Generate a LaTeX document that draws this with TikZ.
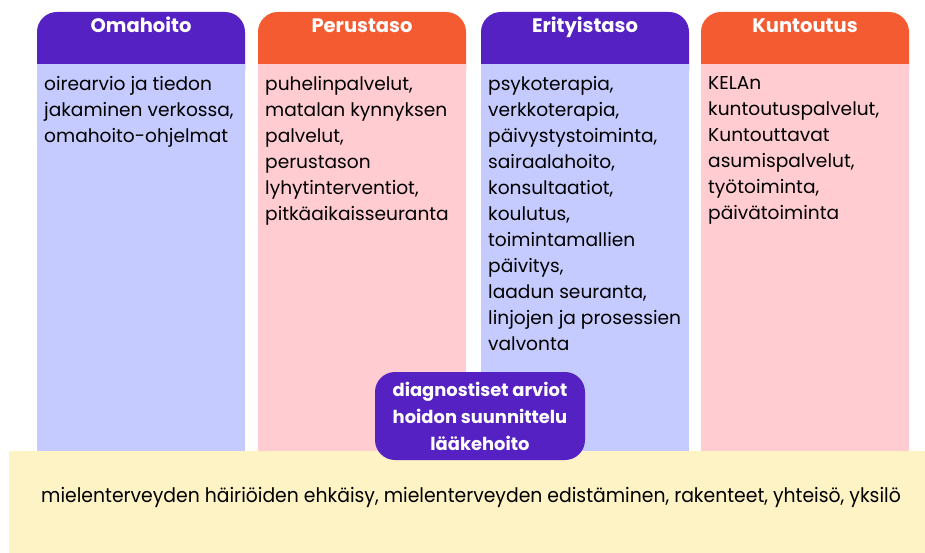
\documentclass[tikz,border=0pt]{standalone}
\usepackage{fontspec}
\setmainfont{Poppins}
\usepackage{xcolor}
\usetikzlibrary{positioning}
\definecolor{headviolet}{HTML}{5521C3}
\definecolor{headorange}{HTML}{F55B31}
\definecolor{bodyblue}{HTML}{C5CBFE}
\definecolor{bodypink}{HTML}{FFCCD2}
\definecolor{baseyellow}{HTML}{FEF3C4}
\tikzset{x=1pt, y=-1pt,
  headtext/.style={text=white, font=\fontsize{19.5}{22}\selectfont\bfseries, anchor=base},
  bodytext/.style={anchor=north west, align=left, inner sep=0pt, font=\fontsize{18.6}{26}\selectfont},
  levelbox/.style={rounded corners=20pt}}

\begin{document}
\begin{tikzpicture}
        \useasboundingbox (0,0) rectangle (925,553);
        % Draw the four columns: header with rounded top, then the body
        \fill[levelbox, headviolet] (37,12) rectangle (245,90);
        \fill[levelbox, headorange] (258,12) rectangle (466,90);
        \fill[levelbox, headviolet] (481,12) rectangle (689,90);
        \fill[levelbox, headorange] (701,12) rectangle (909,90);
        \fill[bodyblue] (37,64) rectangle (245,452);
        \fill[bodypink] (258,64) rectangle (466,452);
        \fill[bodyblue] (481,64) rectangle (689,452);
        \fill[bodypink] (701,64) rectangle (909,452);

        % Column titles
        \node[headtext] (oma) at (141,33) {Omahoito};
        \node[headtext] (perus) at (362,33) {Perustaso};
        \node[headtext] (erity) at (585,33) {Erityistaso};
        \node[headtext] (kunto) at (805,33) {Kuntoutus};

        % Column contents
        \node[bodytext] (omaList) at (44,76) {oirearvio ja tiedon\\jakaminen verkossa,\\omahoito-ohjelmat};
        \node[bodytext] (perusList) at (265,76) {puhelinpalvelut,\\matalan kynnyksen\\palvelut,\\perustason\\lyhytinterventiot,\\pitkäaikaisseuranta};
        \node[bodytext] (erityList) at (488,76) {psykoterapia,\\verkkoterapia,\\päivystystoiminta,\\sairaalahoito,\\konsultaatiot,\\koulutus,\\toimintamallien\\päivitys,\\laadun seuranta,\\linjojen ja prosessien\\valvonta};
        \node[bodytext] (kuntoList) at (708,76) {KELAn\\kuntoutuspalvelut,\\Kuntouttavat\\asumispalvelut,\\työtoiminta,\\päivätoiminta};

        % Base band
        \fill[baseyellow] (9,451) rectangle (925,553);
        \node[font=\fontsize{20}{22}\selectfont, xscale=0.94] (base) at (471,497) {mielenterveyden häiriöiden ehkäisy, mielenterveyden edistäminen, rakenteet, yhteisö, yksilö};

        % Purple box in the middle
        \node[fill=headviolet, levelbox, text=white, align=center, minimum width=210pt, minimum height=88pt, inner sep=0pt,
              font=\fontsize{17.9}{27}\selectfont\bfseries] (diag) at (480,416) {diagnostiset arviot\\hoidon suunnittelu\\lääkehoito};
    \end{tikzpicture}
\end{document}
